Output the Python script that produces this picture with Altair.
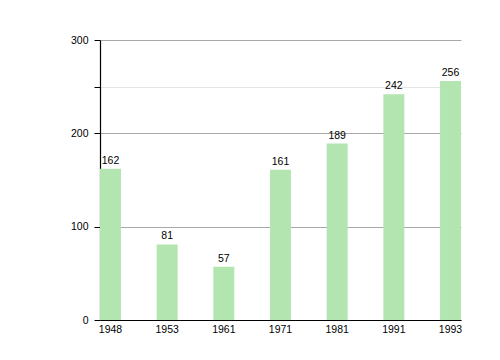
import altair as alt
import pandas as pd

years = ["1948", "1953", "1961", "1971", "1981", "1991", "1993"]
values = [162, 81, 57, 161, 189, 242, 256]
y_ticks = [0, 100, 200, 250, 300]

df = pd.DataFrame({"year": years, "value": values})

FONT = "Liberation Sans"

x = alt.X(
    "year:N",
    sort=years,
    scale=alt.Scale(paddingInner=0.63, paddingOuter=0, range=[0, 361]),
    axis=alt.Axis(
        title=None, labelAngle=0, ticks=False, domainColor="#000000",
        labelColor="#000000", labelFont=FONT, labelFontSize=10.5,
        labelPadding=4, domainWidth=1.2,
    ),
)
y = alt.Y(
    "value:Q",
    scale=alt.Scale(domain=[0, 300], nice=False),
    axis=alt.Axis(
        title=None, values=y_ticks, grid=True,
        gridColor={"condition": {"test": "datum.value == 250", "value": "#e4e4e4"}, "value": "#a8a8a8"},
        labelExpr="datum.value == 250 ? '' : datum.label",
        domainColor="#000000", tickColor="#000000", tickSize=6,
        labelColor="#000000", labelFont=FONT, labelFontSize=10.5,
        labelPadding=6, domainWidth=1.2,
    ),
)

bars = alt.Chart(df).mark_bar(color="#b3e5b1").encode(x=x, y=y)
labels = alt.Chart(df).mark_text(
    baseline="bottom", dy=-3, font=FONT, fontSize=10.5, color="#000000"
).encode(x=x, y=y, text="value:Q")

chart = (bars + labels).properties(
    width=360, height=280,
    autosize=alt.AutoSizeParams(type="none"),
    padding={"left": 92, "top": 32, "right": 30, "bottom": 30},
    background="#ffffff",
).configure_view(stroke=None)

chart.save("out.html", embed_options={"renderer": "svg", "actions": False})
